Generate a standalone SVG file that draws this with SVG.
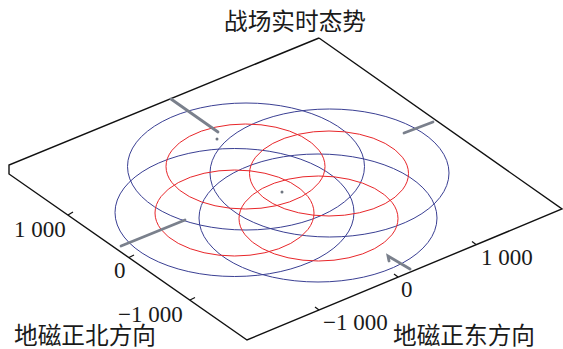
<svg xmlns="http://www.w3.org/2000/svg" width="563" height="349" viewBox="0 0 563 349">
<style>
.num{font-family:"Liberation Serif","Noto Sans CJK SC",serif;font-size:23px;fill:#1a1a1a}
.cjk{font-family:"Liberation Serif","Noto Sans CJK SC",serif;font-size:23.5px;fill:#1a1a1a}
.frame{fill:none;stroke:#111;stroke-width:1.4}
.tick{fill:none;stroke:#111;stroke-width:1.2}
.blue{fill:none;stroke:#3a3f93;stroke-width:1}
.red{fill:none;stroke:#e8262a;stroke-width:1}
.track{fill:none;stroke:#7a808c;stroke-width:2.8;stroke-linecap:round}
.dot{fill:#6f7580}
</style>
<rect width="563" height="349" fill="#fff"/>
<g id="frame">
<polyline class="frame" points="319,38 9,165 9,174 247,340 562,209 319,38"/>
<line class="tick" x1="68" y1="215" x2="73" y2="212"/>
<line class="tick" x1="129" y1="257.5" x2="134" y2="255"/>
<line class="tick" x1="190" y1="300" x2="195" y2="297.5"/>
<line class="tick" x1="319" y1="310" x2="315" y2="307"/>
<line class="tick" x1="398" y1="277" x2="394" y2="274"/>
<line class="tick" x1="476" y1="244.5" x2="472" y2="241.5"/>
</g>
<g id="title"><text class="cjk" x="224" y="30" textLength="142" lengthAdjust="spacingAndGlyphs">战场实时态势</text></g>
<g id="axis-north">
<text class="num" x="14" y="237">1 000</text>
<text class="num" x="114" y="278">0</text>
<text class="num" x="118" y="322">−1 000</text>
<text class="cjk" x="14" y="344" textLength="142" lengthAdjust="spacingAndGlyphs">地磁正北方向</text>
</g>
<g id="axis-east">
<text class="num" x="481" y="265">1 000</text>
<text class="num" x="401" y="297">0</text>
<text class="num" x="323" y="330">−1 000</text>
<text class="cjk" x="393" y="344" textLength="142" lengthAdjust="spacingAndGlyphs">地磁正东方向</text>
</g>
<g id="blue-circles">
<ellipse class="blue" cx="246" cy="166.5" rx="118.5" ry="63.5"/>
<ellipse class="blue" cx="329.5" cy="173" rx="119.5" ry="64"/>
<ellipse class="blue" cx="234.5" cy="212.5" rx="119.5" ry="64"/>
<ellipse class="blue" cx="318" cy="218" rx="119" ry="64"/>
</g>
<g id="red-circles">
<ellipse class="red" cx="245.5" cy="166.5" rx="79.5" ry="42.5"/>
<ellipse class="red" cx="329" cy="173.5" rx="79.5" ry="42.5"/>
<ellipse class="red" cx="234.5" cy="213" rx="79.5" ry="43"/>
<ellipse class="red" cx="318.5" cy="218.5" rx="79.5" ry="42.5"/>
</g>
<g id="tracks">
<line class="track" x1="171" y1="99" x2="218" y2="132"/>
<circle class="dot" cx="217" cy="139" r="1.5"/>
<line class="track" x1="404" y1="133" x2="433" y2="122"/>
<line class="track" x1="121" y1="246" x2="185" y2="220"/>
<polyline class="track" points="389,261 388,256 410,269"/>
<circle class="dot" cx="282" cy="192" r="1.5"/>
</g>
</svg>
